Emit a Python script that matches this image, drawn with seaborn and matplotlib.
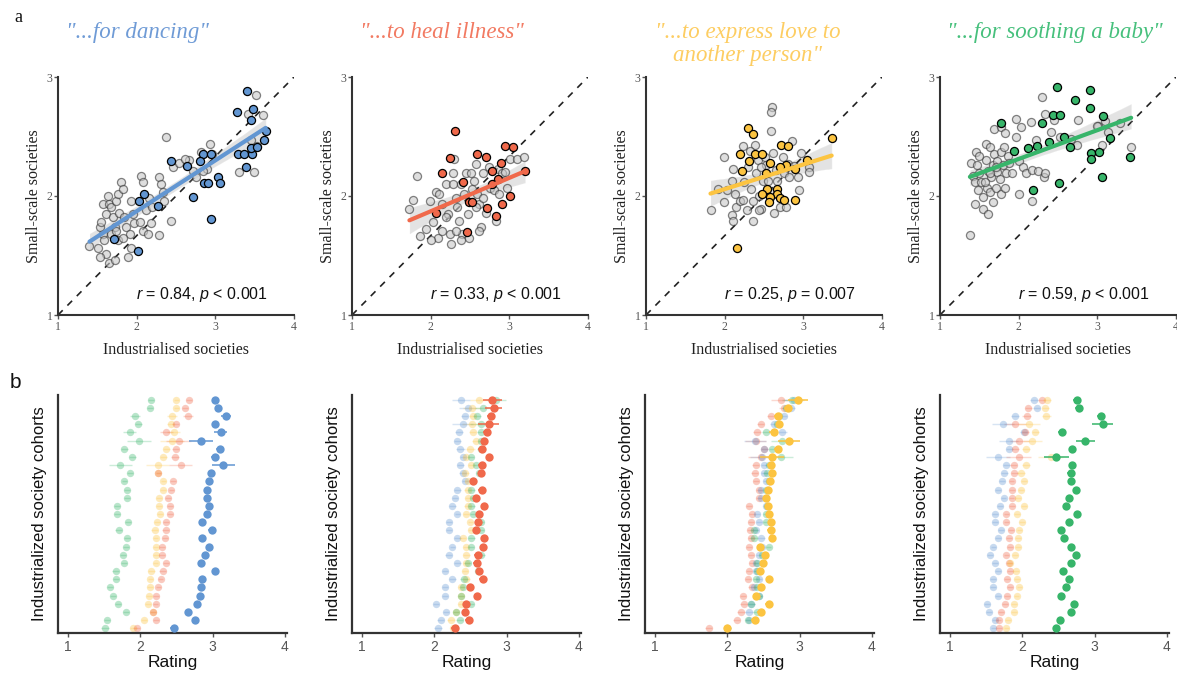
import numpy as np
import matplotlib
matplotlib.use("Agg")
import matplotlib.pyplot as plt
import seaborn as sns

# ---- panel a: song-function ratings, industrialised vs small-scale ----
titles = ['"...for dancing"', '"...to heal illness"',
          '"...to express love to\nanother person"', '"...for soothing a baby"']
stat_labels = ["$r$ = 0.84, $p$ < 0.001", "$r$ = 0.33, $p$ < 0.001",
               "$r$ = 0.25, $p$ = 0.007", "$r$ = 0.59, $p$ < 0.001"]
scale_x = [1, 2, 3, 4]
scale_y = [1, 2, 3]

dance_ind_hi = [3.40, 3.28, 3.48, 3.45, 3.64, 3.62, 2.84, 3.29, 3.37, 3.47, 3.45, 3.53, 3.39, 2.44,
                2.64, 2.80, 2.85, 2.91, 3.04, 3.06, 2.95, 2.72, 2.94, 2.27, 2.09, 2.03, 1.71, 2.02]
dance_small_hi = [2.88, 2.71, 2.73, 2.64, 2.55, 2.47, 2.35, 2.35, 2.35, 2.35, 2.40, 2.41, 2.24, 2.29,
                  2.25, 2.29, 2.11, 2.11, 2.16, 2.11, 2.35, 1.99, 1.81, 1.92, 2.02, 1.96, 1.64, 1.54]
dance_ind_grey = [1.40, 1.51, 1.57, 1.53, 1.55, 1.57, 1.61, 1.63, 1.65, 1.68, 1.70, 1.72, 1.61, 1.65,
                  1.72, 1.74, 1.76, 1.80, 1.82, 1.78, 1.84, 1.87, 1.91, 1.93, 1.95, 1.97, 1.89, 1.93,
                  2.06, 2.08, 2.04, 2.08, 2.12, 2.14, 2.18, 2.29, 2.31, 2.33, 2.37, 2.35, 2.29, 2.44,
                  2.46, 2.54, 2.67, 2.71, 2.82, 2.93, 2.90, 2.75, 3.30, 3.49, 3.41, 3.52, 3.60, 3.45,
                  3.53, 2.96, 2.84, 2.61, 2.16, 2.20, 1.68, 1.59, 1.76, 1.82, 1.53, 1.74]
dance_small_grey = [1.58, 1.56, 1.68, 1.74, 1.78, 1.93, 1.85, 2.00, 1.93, 1.91, 1.82, 1.74, 1.51, 1.44,
                    1.46, 1.96, 2.02, 2.12, 2.06, 1.86, 1.82, 1.74, 1.68, 1.96, 1.85, 1.77, 1.49, 1.56,
                    2.17, 2.12, 1.78, 1.71, 1.88, 1.68, 1.77, 2.16, 2.10, 2.03, 2.50, 1.96, 1.67, 1.79,
                    2.24, 2.28, 2.30, 2.21, 2.37, 2.44, 2.23, 2.16, 2.20, 2.20, 2.69, 2.85, 2.68, 2.47,
                    2.42, 2.35, 2.21, 2.31, 1.98, 1.91, 1.68, 1.63, 1.63, 1.65, 1.49, 1.71]

heal_ind_hi = [2.31, 2.24, 2.14, 2.59, 2.70, 2.94, 3.05, 2.90, 2.78, 3.20, 2.85, 2.78, 3.01, 2.91,
               2.83, 2.49, 2.53, 2.71, 2.07, 2.46, 2.41]
heal_small_hi = [2.55, 2.32, 2.19, 2.35, 2.33, 2.42, 2.41, 2.28, 2.21, 2.21, 2.14, 2.10, 2.00, 1.93,
                 1.83, 1.95, 1.95, 1.90, 1.86, 1.70, 2.12]
heal_ind_grey = [1.73, 1.78, 1.83, 1.87, 1.94, 1.99, 2.03, 2.07, 2.09, 2.11, 2.15, 2.19, 2.22, 2.24,
                 2.26, 2.28, 2.30, 2.32, 2.34, 2.36, 2.38, 2.40, 2.42, 2.45, 2.47, 2.51, 2.53, 2.55,
                 2.57, 2.59, 2.62, 2.64, 2.66, 2.67, 2.70, 2.74, 2.76, 2.81, 2.85, 2.87, 2.91, 2.95,
                 2.97, 3.01, 3.10, 3.19, 2.32, 2.38, 2.49, 2.01, 2.15, 2.62, 2.83, 2.28, 2.20, 2.57]
heal_small_grey = [1.89, 1.97, 2.17, 1.66, 1.72, 1.96, 1.78, 2.03, 1.65, 2.02, 1.93, 2.10, 1.85, 1.68,
                   1.60, 2.10, 2.31, 1.98, 1.91, 1.79, 2.10, 1.68, 2.02, 2.19, 1.85, 2.19, 2.06, 2.13,
                   2.27, 2.02, 1.93, 1.74, 2.19, 1.98, 1.86, 2.24, 2.07, 2.05, 2.23, 2.02, 2.19, 2.20,
                   2.07, 2.31, 2.31, 2.33, 1.71, 1.63, 1.65, 1.63, 1.71, 1.71, 1.79, 2.19, 1.82, 1.91]

love_ind_hi = [2.30, 2.36, 2.20, 2.38, 2.48, 2.71, 2.81, 3.36, 2.31, 2.57, 2.78, 3.05, 2.90, 2.22,
               2.52, 2.54, 2.48, 2.67, 2.67, 2.70, 2.76, 2.57, 2.56, 2.90, 2.16, 2.70]
love_small_hi = [2.57, 2.52, 2.35, 2.35, 2.35, 2.43, 2.42, 2.49, 2.29, 2.28, 2.26, 2.30, 2.23, 2.21,
                 2.19, 2.06, 2.02, 2.06, 2.02, 1.98, 1.97, 1.99, 1.95, 1.97, 1.56, 2.24]
love_ind_grey = [1.82, 1.99, 1.99, 2.09, 2.11, 2.13, 2.15, 2.09, 2.11, 2.19, 2.23, 2.25, 2.28, 2.30,
                 2.34, 2.36, 2.38, 2.40, 2.42, 2.44, 2.46, 2.49, 2.51, 2.53, 2.55, 2.57, 2.59, 2.60,
                 2.59, 2.61, 2.63, 2.65, 2.67, 2.70, 2.74, 2.76, 2.78, 2.80, 2.82, 2.86, 2.88, 2.93,
                 2.95, 2.97, 3.07, 3.07, 1.92, 2.03, 2.32, 2.36, 2.46, 2.23, 2.44]
love_small_grey = [1.88, 1.95, 2.33, 2.13, 2.23, 2.02, 1.91, 1.84, 1.79, 1.96, 2.42, 2.12, 1.88, 2.24,
                   2.06, 1.79, 2.43, 2.19, 2.30, 2.00, 1.89, 2.13, 2.33, 2.26, 2.13, 2.03, 2.55, 2.75,
                   2.71, 2.36, 1.86, 2.22, 2.13, 1.91, 2.33, 2.19, 1.91, 2.27, 2.16, 2.46, 2.25, 2.16,
                   2.05, 2.36, 2.24, 2.20, 2.06, 2.05, 2.38, 1.96, 2.24, 1.97, 1.88]

baby_ind_hi = [2.49, 2.91, 2.71, 2.91, 2.44, 2.53, 2.30, 1.77, 3.07, 2.58, 3.16, 2.38, 2.23, 2.12,
               1.94, 2.65, 2.92, 3.02, 2.92, 3.42, 3.06, 2.51, 2.18]
baby_small_hi = [2.92, 2.89, 2.81, 2.74, 2.68, 2.68, 2.61, 2.61, 2.67, 2.50, 2.49, 2.45, 2.42, 2.40,
                 2.38, 2.41, 2.36, 2.37, 2.31, 2.33, 2.16, 2.11, 2.05]
baby_ind_grey = [1.38, 1.39, 1.42, 1.44, 1.46, 1.47, 1.48, 1.44, 1.50, 1.52, 1.55, 1.55, 1.58, 1.59,
                 1.60, 1.61, 1.61, 1.63, 1.64, 1.65, 1.67, 1.67, 1.69, 1.71, 1.72, 1.73, 1.76, 1.78,
                 1.78, 1.80, 1.81, 1.82, 1.84, 1.86, 1.69, 1.78, 1.83, 1.88, 1.92, 1.96, 1.97, 2.00,
                 2.01, 2.03, 2.05, 2.09, 2.16, 2.17, 2.17, 2.22, 2.24, 2.32, 2.34, 2.30, 2.34, 2.41,
                 2.45, 2.74, 2.76, 2.53, 2.66, 3.01, 3.10, 3.14, 3.06, 3.29, 3.43, 2.99, 1.50, 1.63,
                 1.57, 1.71]
baby_small_grey = [1.67, 2.28, 2.17, 2.12, 2.37, 2.26, 2.05, 1.93, 2.19, 2.12, 1.99, 1.89, 2.30, 2.44,
                   2.07, 2.21, 1.85, 2.41, 2.03, 2.16, 2.26, 1.95, 2.35, 2.07, 2.20, 2.29, 2.14, 2.37,
                   2.02, 2.26, 2.41, 2.07, 2.19, 2.34, 2.56, 2.58, 2.53, 2.28, 2.19, 2.65, 2.50, 2.29,
                   2.02, 2.58, 2.24, 2.19, 2.62, 2.22, 1.96, 2.47, 2.21, 2.16, 2.19, 2.83, 2.69, 2.54,
                   2.64, 2.43, 2.64, 2.50, 2.48, 2.59, 2.63, 2.54, 2.43, 2.61, 2.41, 2.59, 2.34, 2.19,
                   2.12, 2.24]

# ---- panel b: mean rating per industrialised-society cohort (29 cohorts) ----
coh_dance_blue = [3.04, 3.08, 3.18, 3.04, 3.11, 2.84, 3.10, 3.03, 3.15, 2.98, 2.95, 2.92, 2.92, 2.95, 2.92,
                  2.85, 2.99, 2.86, 2.95, 2.90, 2.84, 3.04, 2.86, 2.84, 2.83, 2.79, 2.66, 2.75, 2.46]
coh_dance_red = [2.67, 2.62, 2.66, 2.49, 2.36, 2.53, 2.49, 2.48, 2.56, 2.25, 2.45, 2.43, 2.38, 2.41, 2.41,
                 2.36, 2.35, 2.34, 2.30, 2.30, 2.36, 2.31, 2.28, 2.25, 2.22, 2.21, 2.17, 2.22, 1.95]
coh_dance_yellow = [2.50, 2.50, 2.44, 2.42, 2.46, 2.44, 2.36, 2.32, 2.24, 2.25, 2.32, 2.31, 2.26, 2.26, 2.27,
                    2.23, 2.20, 2.21, 2.21, 2.22, 2.21, 2.15, 2.14, 2.13, 2.12, 2.11, 2.17, 2.05, 1.90]
coh_dance_green = [2.15, 2.13, 1.92, 1.97, 1.85, 1.98, 1.78, 1.89, 1.72, 1.86, 1.78, 1.81, 1.82, 1.68, 1.68,
                   1.83, 1.70, 1.81, 1.80, 1.76, 1.77, 1.66, 1.66, 1.58, 1.62, 1.69, 1.80, 1.54, 1.51]
coh_dance_err = [0.04, 0.04, 0.07, 0.05, 0.09, 0.17, 0.05, 0.05, 0.16, 0.04, 0.04, 0.04, 0.04, 0.04, 0.04,
                 0.04, 0.05, 0.04, 0.04, 0.04, 0.04, 0.05, 0.04, 0.04, 0.04, 0.04, 0.04, 0.04, 0.05]

coh_heal_blue = [2.37, 2.46, 2.42, 2.39, 2.34, 2.32, 2.36, 2.39, 2.36, 2.39, 2.42, 2.32, 2.29, 2.25, 2.32,
                 2.20, 2.20, 2.32, 2.25, 2.20, 2.32, 2.15, 2.25, 2.15, 2.15, 2.02, 2.16, 2.09, 2.05]
coh_heal_red = [2.80, 2.82, 2.78, 2.75, 2.73, 2.69, 2.66, 2.75, 2.66, 2.65, 2.53, 2.66, 2.58, 2.69, 2.62,
                2.60, 2.57, 2.69, 2.67, 2.60, 2.59, 2.62, 2.67, 2.49, 2.59, 2.44, 2.43, 2.48, 2.28]
coh_heal_yellow = [2.62, 2.52, 2.53, 2.52, 2.53, 2.57, 2.50, 2.44, 2.51, 2.43, 2.46, 2.46, 2.46, 2.46, 2.44,
                   2.50, 2.51, 2.39, 2.44, 2.44, 2.44, 2.42, 2.44, 2.37, 2.37, 2.37, 2.30, 2.23, 2.26]
coh_heal_green = [2.86, 2.68, 2.59, 2.64, 2.64, 2.65, 2.65, 2.51, 2.58, 2.62, 2.53, 2.51, 2.53, 2.51, 2.53,
                  2.65, 2.65, 2.51, 2.51, 2.65, 2.46, 2.60, 2.41, 2.39, 2.37, 2.51, 2.30, 2.35, 2.28]
coh_heal_err = [0.13, 0.12, 0.05, 0.14, 0.05, 0.05, 0.06, 0.04, 0.05, 0.05, 0.04, 0.05, 0.04, 0.05, 0.04,
                0.04, 0.04, 0.05, 0.04, 0.05, 0.05, 0.04, 0.05, 0.04, 0.04, 0.04, 0.04, 0.05, 0.05]

coh_love_blue = [2.92, 2.88, 2.78, 2.64, 2.76, 2.38, 2.51, 2.48, 2.51, 2.51, 2.53, 2.46, 2.46, 2.53, 2.41,
                 2.44, 2.39, 2.47, 2.48, 2.44, 2.39, 2.39, 2.44, 2.37, 2.44, 2.33, 2.30, 2.30, 2.00]
coh_love_red = [2.74, 2.78, 2.60, 2.46, 2.41, 2.39, 2.51, 2.46, 2.39, 2.38, 2.40, 2.44, 2.44, 2.30, 2.34,
                2.33, 2.32, 2.33, 2.30, 2.33, 2.34, 2.30, 2.29, 2.34, 2.22, 2.23, 2.19, 2.13, 1.74]
coh_love_yellow = [2.98, 2.84, 2.70, 2.72, 2.64, 2.85, 2.70, 2.62, 2.60, 2.62, 2.59, 2.56, 2.54, 2.56, 2.57,
                   2.60, 2.60, 2.62, 2.45, 2.52, 2.50, 2.45, 2.57, 2.47, 2.40, 2.57, 2.46, 2.38, 2.00]
coh_love_green = [2.90, 2.81, 2.71, 2.69, 2.54, 2.76, 2.62, 2.74, 2.57, 2.55, 2.57, 2.53, 2.53, 2.55, 2.53,
                  2.53, 2.37, 2.37, 2.57, 2.48, 2.41, 2.41, 2.39, 2.41, 2.44, 2.33, 2.41, 2.29, 2.00]
coh_love_err = [0.14, 0.06, 0.05, 0.05, 0.06, 0.15, 0.05, 0.17, 0.05, 0.05, 0.04, 0.04, 0.04, 0.04, 0.04,
                0.04, 0.05, 0.05, 0.04, 0.04, 0.04, 0.04, 0.04, 0.05, 0.04, 0.05, 0.05, 0.05, 0.05]

coh_baby_blue = [2.16, 2.20, 1.90, 1.73, 2.02, 1.81, 1.82, 1.66, 1.78, 1.75, 1.72, 1.66, 1.74, 1.69, 1.62,
                 1.62, 1.70, 1.66, 1.60, 1.55, 1.62, 1.66, 1.59, 1.59, 1.66, 1.51, 1.54, 1.62, 1.60]
coh_baby_red = [2.27, 2.08, 2.06, 1.90, 2.04, 1.96, 1.90, 1.95, 1.88, 1.89, 1.85, 1.86, 1.85, 1.86, 1.78,
                1.78, 1.84, 1.81, 1.83, 1.78, 1.82, 1.83, 1.79, 1.83, 1.79, 1.76, 1.70, 1.67, 1.68]
coh_baby_yellow = [2.34, 2.32, 2.33, 2.09, 2.18, 2.14, 2.05, 2.39, 2.05, 1.98, 2.02, 1.98, 1.94, 2.02, 1.93,
                   2.00, 1.96, 1.94, 1.94, 1.90, 1.83, 1.91, 1.93, 1.96, 1.92, 1.88, 1.88, 1.80, 1.78]
coh_baby_green = [2.75, 2.78, 3.09, 3.11, 2.55, 2.87, 2.69, 2.47, 2.69, 2.67, 2.68, 2.74, 2.65, 2.60, 2.75,
                  2.64, 2.54, 2.57, 2.67, 2.74, 2.67, 2.56, 2.64, 2.60, 2.54, 2.72, 2.67, 2.52, 2.46]
coh_baby_err = [0.05, 0.05, 0.06, 0.15, 0.05, 0.13, 0.05, 0.17, 0.05, 0.05, 0.04, 0.04, 0.04, 0.04, 0.04,
                0.04, 0.04, 0.04, 0.04, 0.04, 0.04, 0.04, 0.04, 0.04, 0.04, 0.04, 0.04, 0.04, 0.04]

BLUE, RED, YELLOW, GREEN = "#6296d2", "#f0694b", "#fcc441", "#37b56a"
title_colors = ["#6f9bd6", "#f27a62", "#fdcd62", "#46c07c"]

sns.set_theme(style="ticks")
plt.rcParams["font.family"] = ["Liberation Serif", "DejaVu Serif"]
plt.rcParams["mathtext.fontset"] = "custom"
plt.rcParams["mathtext.rm"] = "Liberation Sans"
plt.rcParams["mathtext.it"] = "Liberation Sans:italic"

W, H = 1177, 676
fig = plt.figure(figsize=(W / 100, H / 100), dpi=100)

top_data = [
    (dance_ind_grey, dance_small_grey, dance_ind_hi, dance_small_hi, BLUE),
    (heal_ind_grey, heal_small_grey, heal_ind_hi, heal_small_hi, RED),
    (love_ind_grey, love_small_grey, love_ind_hi, love_small_hi, YELLOW),
    (baby_ind_grey, baby_small_grey, baby_ind_hi, baby_small_hi, GREEN),
]
lefts_top = [58, 352, 646, 940]
title_cx = [137, 442, 748, 1055]

for i, (xg, yg, xh, yh, col) in enumerate(top_data):
    ax = fig.add_axes([lefts_top[i] / W, (H - 315) / H, 236 / W, 238 / H])
    ax.plot([0, 1], [0, 1], transform=ax.transAxes, ls=(0, (4, 4)), color="#222222", lw=1.2, zorder=1)
    sns.scatterplot(x=xg, y=yg, ax=ax, s=34, color="#c9c9c9", edgecolor="#333333",
                    linewidth=0.9, alpha=0.6, zorder=2)
    sns.scatterplot(x=xh, y=yh, ax=ax, s=34, color=col, edgecolor="black",
                    linewidth=0.9, zorder=3)
    all_x = np.array(xg + xh)
    all_y = np.array(yg + yh)
    sns.regplot(x=all_x, y=all_y, ax=ax, scatter=False, color="#444444", seed=1,
                line_kws={"lw": 0}, ci=95)
    sns.regplot(x=all_x, y=all_y, ax=ax, scatter=False, ci=None, color=col,
                line_kws={"lw": 3, "zorder": 4})
    ax.set_xlim(1, 4)
    ax.set_ylim(1, 3)
    ax.set_xticks(scale_x)
    ax.set_yticks(scale_y)
    ax.tick_params(labelsize=8.5, colors="#555555", length=3, width=1)
    ax.tick_params(axis="y", pad=1)
    ax.tick_params(axis="x", pad=1)
    for sp in ["left", "bottom"]:
        ax.spines[sp].set_linewidth(1.5)
        ax.spines[sp].set_color("#333333")
    sns.despine(ax=ax)
    ax.set_xlabel("Industrialised societies", fontsize=11.5, color="#222222", labelpad=7)
    ax.set_ylabel("Small-scale societies", fontsize=11.5, color="#222222", labelpad=3)
    ax.text(0.89, 0.085, stat_labels[i], transform=ax.transAxes, ha="right", va="center",
            fontsize=11.5, color="#111111", family="Liberation Sans")
    fig.text(title_cx[i] / W, 1 - 22 / H, titles[i], ha="center", va="top", fontsize=16.5,
             style="italic", color=title_colors[i], linespacing=1.1)

fig.text(14 / W, 1 - 18 / H, "a", fontsize=13, va="center", color="#111111")

# ---- bottom row ----
bottom_data = [
    ([coh_dance_green, coh_dance_yellow, coh_dance_red], [GREEN, YELLOW, RED], coh_dance_blue, BLUE, coh_dance_err),
    ([coh_heal_blue, coh_heal_yellow, coh_heal_green], [BLUE, YELLOW, GREEN], coh_heal_red, RED, coh_heal_err),
    ([coh_love_red, coh_love_blue, coh_love_green], [RED, BLUE, GREEN], coh_love_yellow, YELLOW, coh_love_err),
    ([coh_baby_blue, coh_baby_red, coh_baby_yellow], [BLUE, RED, YELLOW], coh_baby_green, GREEN, coh_baby_err),
]
lefts_bot = [58, 352, 645, 940]
cohort = np.arange(len(coh_dance_blue))

for i, (faded, fcols, hi, hcol, err) in enumerate(bottom_data):
    ax = fig.add_axes([lefts_bot[i] / W, (H - 633) / H, 229 / W, 238 / H])
    for vals, c in zip(faded, fcols):
        ax.errorbar(vals, cohort, xerr=err, fmt="none", ecolor=c, alpha=0.25, lw=1, zorder=1)
        sns.scatterplot(x=vals, y=cohort, ax=ax, s=28, color=c, alpha=0.35, linewidth=0, zorder=2)
    ax.errorbar(hi, cohort, xerr=err, fmt="none", ecolor=hcol, lw=1.1, zorder=3)
    sns.scatterplot(x=hi, y=cohort, ax=ax, s=36, color=hcol, linewidth=0, zorder=4)
    ax.set_xlim(0.86, 4.03)
    ax.set_ylim(len(cohort) - 0.4, -0.6)
    ax.set_yticks([])
    ax.set_xticks(scale_x)
    ax.set_xticklabels([str(t) for t in scale_x], family="Liberation Sans")
    ax.tick_params(axis="x", labelsize=10, colors="#555555", length=3, width=1, pad=2)
    for sp in ["left", "bottom"]:
        ax.spines[sp].set_linewidth(1.6)
        ax.spines[sp].set_color("#333333")
    sns.despine(ax=ax)
    ax.set_xlabel("Rating", fontsize=12.5, family="Liberation Sans", color="#111111", labelpad=1)
    ax.set_ylabel("Industrialized society cohorts", fontsize=12, family="Liberation Sans",
                  color="#111111", labelpad=8)

fig.text(10 / W, 1 - 383 / H, "b", fontsize=15, va="center", family="Liberation Sans", color="#111111")

fig.savefig("out.png", dpi=100, facecolor="white")
